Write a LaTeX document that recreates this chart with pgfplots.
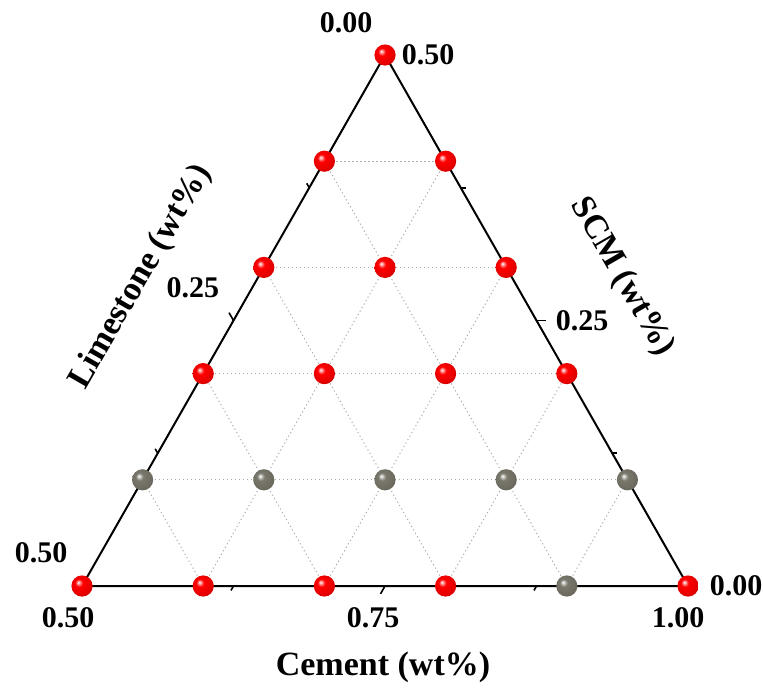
\documentclass[border=0pt]{standalone}
\usepackage{fontspec}
\setmainfont{Liberation Serif}
\usepackage{pgfplots}
\usepackage{pgfplotstable}
\pgfplotsset{compat=1.18}

\definecolor{sphred}{RGB}{255,0,0}
\definecolor{sphgrey}{RGB}{122,120,108}

% sphere-like shadings for the markers
\pgfdeclareradialshading{redsphere}{\pgfpoint{-9bp}{9bp}}{%
  color(0bp)=(white); color(3bp)=(sphred!35!white); color(9bp)=(sphred);
  color(24bp)=(sphred!90!black); color(34bp)=(sphred!78!black); color(50bp)=(sphred!70!black)}
\pgfdeclareradialshading{greysphere}{\pgfpoint{-9bp}{9bp}}{%
  color(0bp)=(white); color(3bp)=(sphgrey!35!white); color(9bp)=(sphgrey);
  color(24bp)=(sphgrey!90!black); color(34bp)=(sphgrey!80!black); color(50bp)=(sphgrey!70!black)}
\pgfdeclareplotmark{redball}{%
  \pgfpathcircle{\pgfpointorigin}{\pgfplotmarksize}%
  \pgfshadepath{redsphere}{0}\pgfusepath{}}
\pgfdeclareplotmark{greyball}{%
  \pgfpathcircle{\pgfpointorigin}{\pgfplotmarksize}%
  \pgfshadepath{greysphere}{0}\pgfusepath{}}

\tikzset{
  gridl/.style={gray!65, line width=0.5pt, dash pattern=on 0.6pt off 1.4pt},
  tk/.style={black, line width=0.8pt},
  tl/.style={font=\fontsize{15}{18}\selectfont\bfseries, inner sep=0pt},
  ttl/.style={font=\fontsize{17}{20}\selectfont\bfseries, inner sep=0pt},
}

% mixture compositions: Cement, Limestone, SCM (mass fractions)
\pgfplotstableread{
C    L    S
0.5  0.0  0.5
0.5  0.1  0.4
0.6  0.0  0.4
0.5  0.2  0.3
0.6  0.1  0.3
0.7  0.0  0.3
0.5  0.3  0.2
0.6  0.2  0.2
0.7  0.1  0.2
0.8  0.0  0.2
0.5  0.5  0.0
0.6  0.4  0.0
0.7  0.3  0.0
0.8  0.2  0.0
1.0  0.0  0.0
}\redmix
\pgfplotstableread{
C    L    S
0.5  0.4  0.1
0.6  0.3  0.1
0.7  0.2  0.1
0.8  0.1  0.1
0.9  0.0  0.1
0.9  0.1  0.0
}\greymix
\pgfplotstableread{
C    L    S
0.5  0.5  0.0
1.0  0.0  0.0
0.5  0.0  0.5
0.5  0.5  0.0
}\trimix

% ternary (C,L,S) -> plane: x = C + S/2, y = S
\pgfplotsset{table/tern/.style={x expr=\thisrow{C}+0.5*\thisrow{S}, y expr=\thisrow{S}}}

\begin{document}
\begin{tikzpicture}
\begin{axis}[
  hide axis, clip=false,
  x=606pt, y=531pt,
  xmin=0.43234, xmax=1.06188, ymin=-0.09793, ymax=0.55179,
]
\path (axis cs:0.43234,-0.09793) rectangle (axis cs:1.06188,0.55179);

% grid at 0.1 steps
\pgfplotsinvokeforeach{0.1,0.2,0.3,0.4}{
  \draw[gridl] (axis cs:{0.5+#1/2},#1) -- (axis cs:{1-#1/2},#1);
  \draw[gridl] (axis cs:{1-#1},0) -- (axis cs:{0.5+(0.5-#1)/2},{0.5-#1});
  \draw[gridl] (axis cs:{0.5+#1},0) -- (axis cs:{0.5+#1+(0.5-#1)/2},{0.5-#1});
}

\addplot[only marks, mark=redball, mark size=5.3pt] table[tern] {\redmix};
\addplot[only marks, mark=greyball, mark size=5.3pt] table[tern] {\greymix};

\addplot[black, line width=1pt, no marks] table[tern] {\trimix};

% ticks: major every 0.25, minor every 0.125
\pgfplotsinvokeforeach{0.5,0.75,1.0}{
  \draw[tk] (axis cs:#1,0) -- ++(axis direction cs:-0.00368,-0.00736);}
\pgfplotsinvokeforeach{0.625,0.875}{
  \draw[tk] (axis cs:#1,0) -- ++(axis direction cs:-0.0021,-0.0042);}
\pgfplotsinvokeforeach{0,0.25,0.5}{
  \draw[tk] (axis cs:{0.5+(0.5-#1)/2},{0.5-#1}) -- ++(axis direction cs:-0.00368,0.00736);
  \draw[tk] (axis cs:{1-#1/2},#1) -- ++(axis direction cs:0.00743,0);}
\pgfplotsinvokeforeach{0.125,0.375}{
  \draw[tk] (axis cs:{0.5+(0.5-#1)/2},{0.5-#1}) -- ++(axis direction cs:-0.0021,0.0042);
  \draw[tk] (axis cs:{1-#1/2},#1) -- ++(axis direction cs:0.0042,0);}

% tick labels
\node[tl] at (axis cs:0.71782,0.53013) {0.00};
\node[tl] at (axis cs:0.78548,0.5) {0.50};
\node[tl] at (axis cs:0.59158,0.28060) {0.25};
\node[tl] at (axis cs:0.46617,0.03107) {0.50};
\node[tl] at (axis cs:0.48845,-0.03013) {0.50};
\node[tl] at (axis cs:0.74010,-0.03013) {0.75};
\node[tl] at (axis cs:0.99175,-0.03013) {1.00};
\node[tl] at (axis cs:1.03960,0) {0.00};
\node[tl] at (axis cs:0.91254,0.24953) {0.25};

% axis titles
\node[ttl] at (axis cs:0.74835,-0.07627) {Cement (wt\%)};
\node[ttl, rotate=60] at (axis cs:0.54868,0.29096) {Limestone (wt\%)};
\node[ttl, rotate=-60] at (axis cs:0.94554,0.29096) {SCM (wt\%)};
\end{axis}
\end{tikzpicture}
\end{document}
